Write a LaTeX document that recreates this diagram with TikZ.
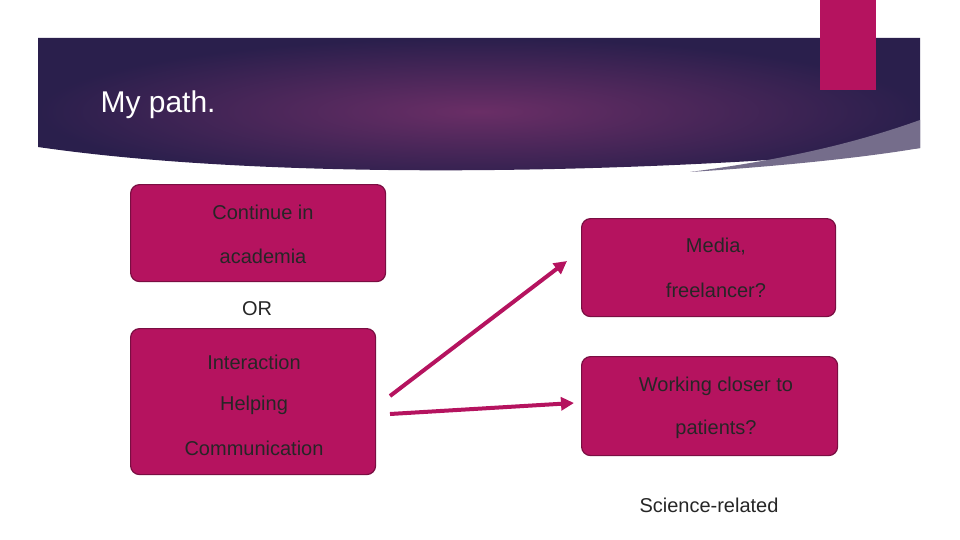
\documentclass[tikz,border=0pt]{standalone}
\usepackage{fontspec}
\setmainfont{Liberation Sans}
\usetikzlibrary{arrows.meta, positioning}
\definecolor{magbox}{HTML}{B5135F}
\definecolor{magline}{HTML}{7A0E42}
\definecolor{banin}{HTML}{6A2E66}
\definecolor{banout}{HTML}{2A1F4C}
\begin{document}
\begin{tikzpicture}[x=1pt, y=-1pt,
  pathbox/.style={draw=magline, line width=1.2pt, fill=magbox, rounded corners=9pt, anchor=north west},
  boxtext/.style={font=\fontsize{20}{24}\selectfont, text=black!85},
  linkarrow/.style={-{Triangle[length=13pt, width=13pt]}, line width=4pt, draw=magbox}
]
\useasboundingbox (0,0) rectangle (960,540);

% banner
\shade[inner color=banin, outer color=banout] (38,38) -- (920,38) -- (920,148)
  .. controls (700,170) and (300,185) .. (38,147) -- cycle;
\fill[white!35!banout] (920,120) .. controls (850,145) and (780,160) .. (690,172)
  .. controls (800,165) and (880,155) .. (920,148) -- cycle;
\fill[magbox] (820,0) rectangle (876,90);
\node[anchor=west, text=white, font=\fontsize{30}{36}\selectfont] (title) at (97,105) {My path.};

% boxes
\node[pathbox, minimum width=255pt, minimum height=97pt] (Acad) at (130,184) {};
\node[pathbox, minimum width=245pt, minimum height=146pt] (Inter) at (130,328) {};
\node[pathbox, minimum width=254pt, minimum height=98pt] (Media) at (581,218) {};
\node[pathbox, minimum width=256pt, minimum height=99pt] (Patient) at (581,356) {};

% texts
\node[boxtext] (AcadA) at (263,212) {Continue in};
\node[boxtext] (AcadB) at (263,256) {academia};
\node[boxtext] (Or) at (257,309) {OR};
\node[boxtext] (InterA) at (254,362) {Interaction};
\node[boxtext] (InterB) at (254,405) {Helping};
\node[boxtext] (InterC) at (254,448) {Communication};
\node[boxtext] (MediaA) at (716,247) {Media,};
\node[boxtext] (MediaB) at (716,290) {freelancer?};
\node[boxtext] (PatA) at (716,386) {Working closer to};
\node[boxtext] (PatB) at (716,429) {patients?};
\node[boxtext] (Sci) at (709,505) {Science-related};

% arrows
\coordinate (startA) at (390,396);
\coordinate (startB) at (390,414);
\draw[linkarrow] (startA) -- (567,261);
\draw[linkarrow] (startB) -- (574,403);
\end{tikzpicture}
\end{document}
